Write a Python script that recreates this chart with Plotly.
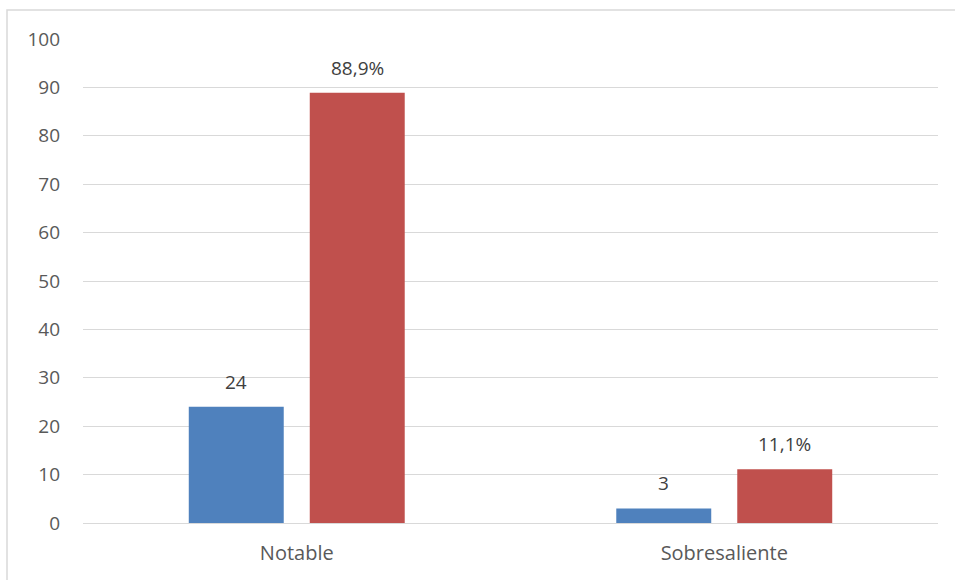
import plotly.graph_objects as go

categories = ["Notable", "Sobresaliente"]
counts = [24, 3]
percents = [88.9, 11.1]
count_labels = ["24", "3"]
percent_labels = ["88,9%", "11,1%"]
y_ticks = [0, 10, 20, 30, 40, 50, 60, 70, 80, 90, 100]

W, H = 955, 580
L, R, T, B = 83, 17, 39, 57
pw, ph = W - L - R, H - T - B

BARGAP, GROUPGAP = 0.434, 0.215
slot_px = pw / len(categories) * (1 - BARGAP) / 2
FONT = "Open Sans, Liberation Sans, sans-serif"

fig = go.Figure()
fig.add_trace(go.Bar(x=categories, y=counts, marker=dict(color="#4F81BD", line=dict(width=0))))
fig.add_trace(go.Bar(x=categories, y=percents, marker=dict(color="#C0504D", line=dict(width=0))))

for cat, v, t in zip(categories, counts, count_labels):
    fig.add_annotation(x=cat, y=v, text=t, showarrow=False, xshift=-slot_px / 2, yshift=25,
                       yanchor="middle", font=dict(size=19, color="#404040", family=FONT))
for cat, v, t in zip(categories, percents, percent_labels):
    fig.add_annotation(x=cat, y=v, text=t, showarrow=False, xshift=slot_px / 2, yshift=25,
                       yanchor="middle", font=dict(size=19, color="#404040", family=FONT))

fig.update_layout(
    width=W, height=H,
    margin=dict(l=L, r=R, t=T, b=B),
    paper_bgcolor="white", plot_bgcolor="white",
    barmode="group", bargap=BARGAP, bargroupgap=GROUPGAP,
    showlegend=False,
    font=dict(family=FONT, size=19, color="#595959"),
    xaxis=dict(showgrid=False, showline=True, linecolor="#D9D9D9", linewidth=1,
               ticks="", ticklabelstandoff=12, tickfont=dict(size=20, color="#595959")),
    yaxis=dict(range=[0, 100], tickvals=y_ticks, showgrid=True, gridcolor="#D9D9D9",
               gridwidth=1, zeroline=False, showline=False, ticks="",
               ticklabelstandoff=22, tickfont=dict(size=19, color="#595959")),
)

# outer chart border (partially cropped in reference)
fig.add_shape(type="rect", xref="paper", yref="paper",
              x0=(7 - L) / pw, x1=(W + 5 - L) / pw,
              y0=-(B + 5) / ph, y1=1 + (T - 10) / ph,
              line=dict(color="#D9D9D9", width=1.5), layer="below")

fig.write_html("out.html", config={"displayModeBar": False},
               post_script="document.body.style.margin='0';document.body.style.overflow='hidden';")
